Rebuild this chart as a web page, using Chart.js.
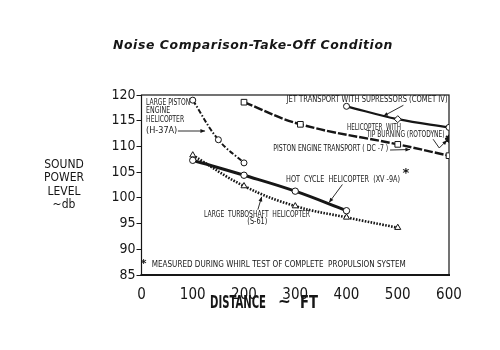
<!DOCTYPE html>
<html>
<head>
<meta charset="utf-8">
<script src="https://cdn.jsdelivr.net/npm/chart.js@4.4.1/dist/chart.umd.min.js"></script>
<style>
  html, body { margin: 0; padding: 0; background: #fff; }
</style>
</head>
<body>
<canvas id="chart" width="500" height="350"></canvas>
<script>
// distance (ft) / sound power level (db) for each aircraft
const h37aDist = [100, 150, 200];
const h37aLevel = [119.0, 111.3, 106.8];

const cometDist = [400, 500, 600];
const cometLevel = [117.8, 115.3, 113.7];

const dc7Dist = [200, 310, 500, 600];
const dc7Level = [118.6, 114.3, 110.4, 108.2];

const rotodyneDist = [600];
const rotodyneLevel = [111.5];

const xv9aDist = [100, 200, 300, 400];
const xv9aLevel = [107.3, 104.4, 101.3, 97.5];

const s61Dist = [100, 200, 300, 400, 500];
const s61Level = [108.3, 102.3, 98.4, 96.2, 94.2];

const distTicks = [0, 100, 200, 300, 400, 500, 600];
const levelTicks = [85, 90, 95, 100, 105, 110, 115, 120];

const INK = '#161616';
const NARROW = "'Liberation Sans Narrow', 'DejaVu Sans Condensed', 'Roboto Condensed', Roboto, sans-serif";

function pts(xs, ys) {
  return xs.map((x, i) => ({ x: x, y: ys[i] }));
}

function series(label, xs, ys, extra) {
  return Object.assign({
    label: label,
    data: pts(xs, ys),
    borderColor: INK,
    borderWidth: 2,
    pointBackgroundColor: '#fff',
    pointBorderColor: INK,
    pointBorderWidth: 1,
    pointRadius: 3,
    tension: 0.4,
    fill: false
  }, extra);
}

// hand lettered notes, placed in chart units (distance, db)
const notes = [
  { t: 'LARGE PISTON', x: 9, y: 118.6, w: 44 },
  { t: 'ENGINE', x: 9, y: 116.9, w: 24 },
  { t: 'HELICOPTER', x: 9, y: 115.2, w: 38 },
  { t: '(H-37A)', x: 9, y: 113.1, w: 32 },
  { t: 'JET TRANSPORT WITH SUPRESSORS (COMET IV)', x: 283, y: 119.1, w: 161 },
  { t: 'HELICOPTER  WITH', x: 401, y: 113.7, w: 54 },
  { t: 'TIP BURNING (ROTODYNE)', x: 439, y: 112.2, w: 78 },
  { t: 'PISTON ENGINE TRANSPORT ( DC -7 )', x: 257, y: 109.5, w: 115 },
  { t: 'HOT  CYCLE  HELICOPTER  (XV -9A)', x: 282, y: 103.6, w: 114 },
  { t: 'LARGE  TURBOSHAFT  HELICOPTER', x: 122, y: 96.8, w: 106 },
  { t: '(S-61)', x: 226, y: 95.4, align: 'center', w: 20 },
  { t: 'MEASURED DURING WHIRL TEST OF COMPLETE  PROPULSION SYSTEM', x: 20, y: 87.0, w: 254 }
];

const arrows = [
  [[71, 113.0], [124, 113.0]],
  [[511, 118.0], [472, 115.9]],
  [[569, 111.4], [581, 109.7], [596, 111.2]],
  [[485, 109.3], [524, 109.4]],
  [[392, 102.6], [366, 99.1]],
  [[227, 97.7], [234.5, 100.2]]
];

const stars = [
  { x: 516, y: 104.8, size: 13 },
  { x: 4, y: 87.2, size: 11 }
];

const paper = {
  id: 'paper',
  beforeDraw(chart) {
    const ctx = chart.ctx;
    ctx.save();
    ctx.fillStyle = '#fff';
    ctx.fillRect(0, 0, chart.width, chart.height);
    ctx.restore();
  },
  beforeDatasetsDraw(chart) {
    const { ctx, chartArea: a } = chart;
    ctx.save();
    ctx.strokeStyle = INK;
    ctx.lineWidth = 1.2;
    ctx.strokeRect(a.left, a.top, a.right - a.left, a.bottom - a.top);
    ctx.lineWidth = 2;
    ctx.beginPath();
    ctx.moveTo(a.left - 1, a.bottom);
    ctx.lineTo(a.right + 1, a.bottom);
    ctx.stroke();
    ctx.restore();
  },
  afterDatasetsDraw(chart) {
    const ctx = chart.ctx;
    const sx = chart.scales.x, sy = chart.scales.y;
    const px = v => sx.getPixelForValue(v);
    const py = v => sy.getPixelForValue(v);

    ctx.save();
    ctx.fillStyle = INK;
    ctx.strokeStyle = INK;
    ctx.textBaseline = 'middle';
    ctx.font = '9px ' + NARROW;
    notes.forEach(n => {
      ctx.textAlign = n.align || 'left';
      ctx.fillText(n.t, px(n.x), py(n.y), n.w);
    });

    ctx.lineWidth = 0.9;
    arrows.forEach(path => {
      const p = path.map(q => [px(q[0]), py(q[1])]);
      ctx.beginPath();
      ctx.moveTo(p[0][0], p[0][1]);
      for (let i = 1; i < p.length; i++) ctx.lineTo(p[i][0], p[i][1]);
      ctx.stroke();
      const [x1, y1] = p[p.length - 2], [x2, y2] = p[p.length - 1];
      const ang = Math.atan2(y2 - y1, x2 - x1);
      ctx.beginPath();
      ctx.moveTo(x2, y2);
      ctx.lineTo(x2 - 5 * Math.cos(ang - 0.4), y2 - 5 * Math.sin(ang - 0.4));
      ctx.lineTo(x2 - 5 * Math.cos(ang + 0.4), y2 - 5 * Math.sin(ang + 0.4));
      ctx.closePath();
      ctx.fill();
    });

    ctx.textAlign = 'center';
    stars.forEach(s => {
      ctx.font = 'bold ' + s.size + 'px DejaVu Sans';
      ctx.fillText('*', px(s.x), py(s.y));
    });
    ctx.restore();
  },
  afterDraw(chart) {
    const ctx = chart.ctx;
    ctx.save();
    ctx.fillStyle = INK;
    ctx.textAlign = 'center';
    ctx.textBaseline = 'middle';

    ctx.font = 'italic bold 13px "DejaVu Sans"';
    ctx.letterSpacing = '0.6px';
    ctx.fillText('Noise Comparison-Take-Off Condition', 253, 46, 280);
    ctx.letterSpacing = '0px';

    ctx.font = '12px ' + NARROW;
    ['SOUND', 'POWER', 'LEVEL', '~db'].forEach((s, i) => {
      ctx.fillText(s, 64, 165 + i * 13.3);
    });

    ctx.font = 'bold 17px ' + NARROW;
    ctx.textAlign = 'left';
    ctx.fillText('DISTANCE', 210, 304, 56);
    ctx.fillText('~', 278, 303);
    ctx.fillText('FT', 300, 304, 18);
    ctx.restore();
  }
};

new Chart(document.getElementById('chart'), {
  type: 'line',
  data: {
    datasets: [
      series('Large piston engine helicopter (H-37A)', h37aDist, h37aLevel, {
        borderDash: [5, 2, 1.5, 2], borderWidth: 2
      }),
      series('Jet transport with supressors (Comet IV)', cometDist, cometLevel, {
        borderWidth: 2.2, pointStyle: ['circle', 'rectRot', 'circle'], pointRadius: [3, 3.5, 3]
      }),
      series('Piston engine transport (DC-7)', dc7Dist, dc7Level, {
        borderDash: [9, 2], borderWidth: 2.4, pointStyle: 'rect', pointRadius: 4
      }),
      series('Helicopter with tip burning (Rotodyne)', rotodyneDist, rotodyneLevel, {
        showLine: false, pointStyle: 'star', pointRadius: 4, pointBorderWidth: 2,
        pointBackgroundColor: INK
      }),
      series('Hot cycle helicopter (XV-9A)', xv9aDist, xv9aLevel, {
        borderWidth: 3, pointRadius: 3.2
      }),
      series('Large turboshaft helicopter (S-61)', s61Dist, s61Level, {
        borderDash: [1.6, 1.4], borderWidth: 2.6, pointStyle: 'triangle', pointRadius: 3.5
      })
    ]
  },
  options: {
    responsive: false,
    devicePixelRatio: 1,
    animation: false,
    layout: { padding: { top: 95, right: 51, left: 0, bottom: 0 } },
    plugins: {
      legend: { display: false },
      tooltip: { enabled: false },
      title: { display: false }
    },
    scales: {
      x: {
        type: 'linear',
        min: distTicks[0],
        max: distTicks[distTicks.length - 1],
        afterFit: s => { s.height = 75; },
        afterBuildTicks: s => { s.ticks = distTicks.map(v => ({ value: v })); },
        grid: { display: false },
        border: { display: false },
        ticks: { color: INK, padding: 3, font: { family: NARROW, size: 15 } }
      },
      y: {
        min: levelTicks[0],
        max: levelTicks[levelTicks.length - 1],
        afterFit: s => { s.width = 141.5; },
        afterBuildTicks: s => { s.ticks = levelTicks.map(v => ({ value: v })); },
        grid: { drawOnChartArea: false, drawTicks: true, tickLength: 5, color: INK, lineWidth: 1 },
        border: { display: false },
        ticks: { color: INK, padding: 1, font: { family: NARROW, size: 14 } }
      }
    }
  },
  plugins: [paper]
});
</script>
</body>
</html>
